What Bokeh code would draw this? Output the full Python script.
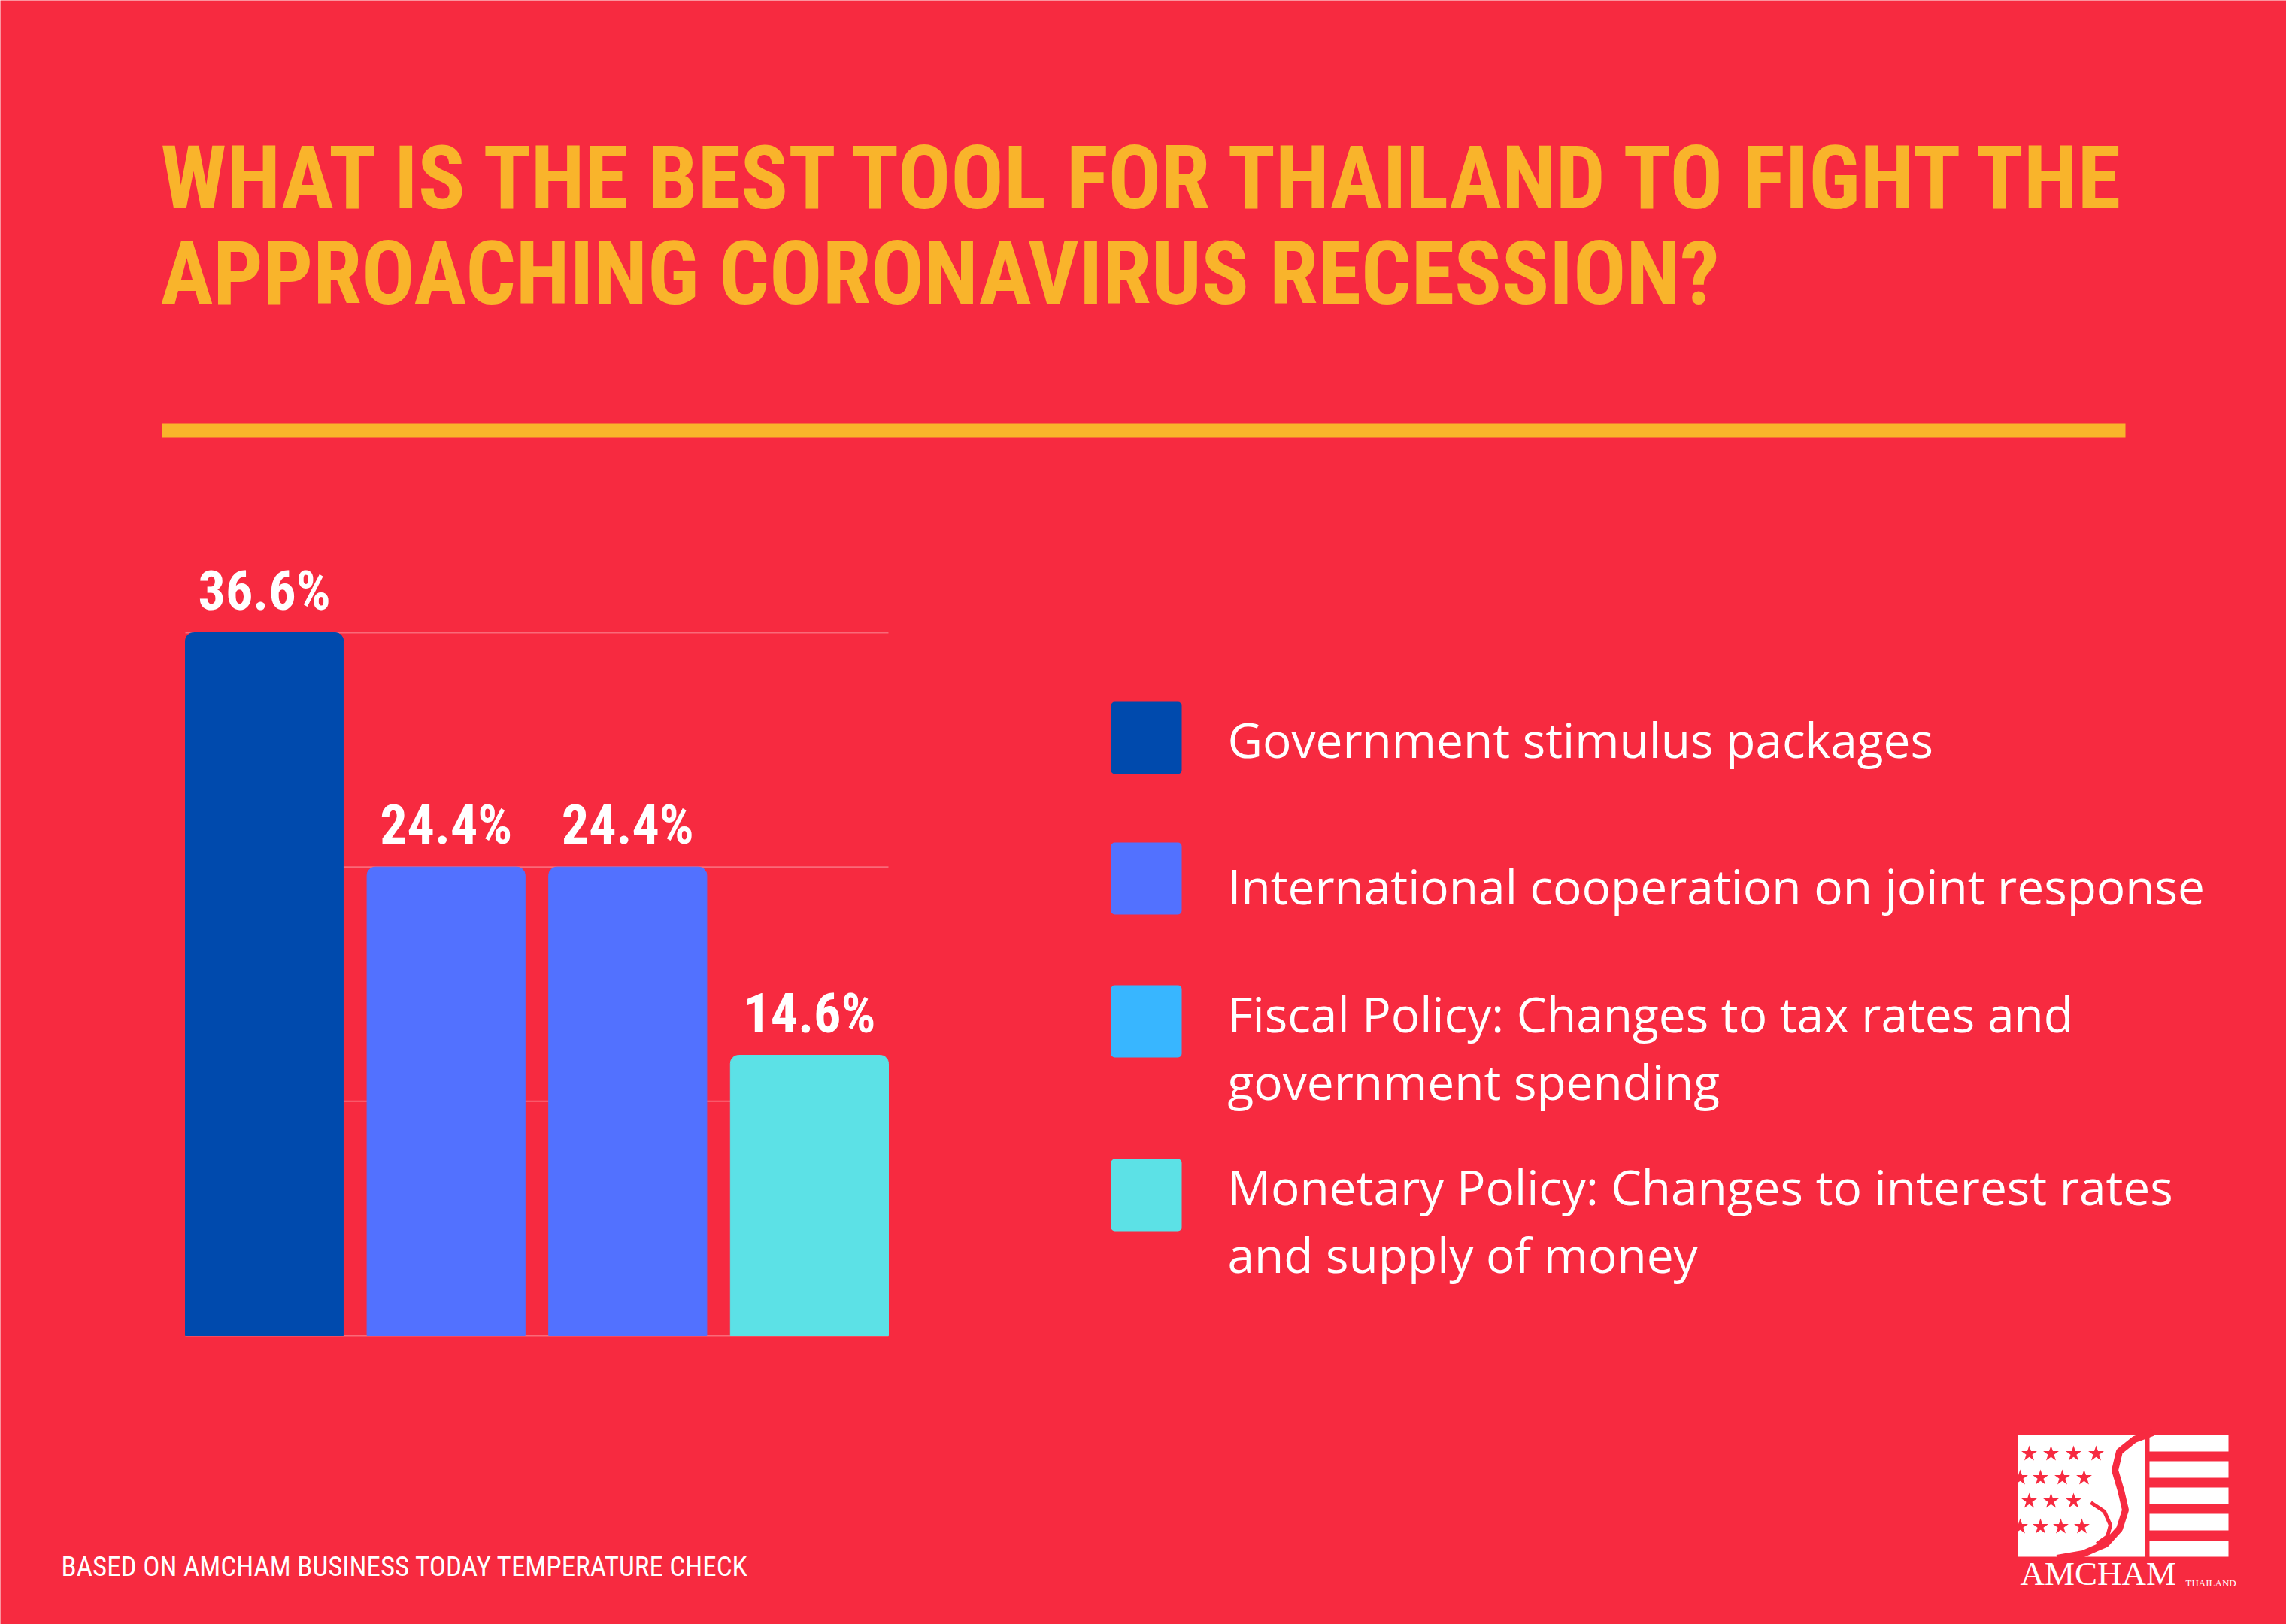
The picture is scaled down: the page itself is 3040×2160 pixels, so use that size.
from bokeh.plotting import figure
from bokeh.models import Range1d, ColumnDataSource
from bokeh.core.properties import value
from bokeh.embed import file_html
from bokeh.resources import INLINE

# ---------------- data ----------------
categories = [
    "Government stimulus packages",
    "International cooperation on joint response",
    "Fiscal Policy: Changes to tax rates and\ngovernment spending",
    "Monetary Policy: Changes to interest rates\nand supply of money",
]
values = [36.6, 24.4, 24.4, 14.6]
bar_colors = ["#004AAD", "#5271FF", "#5271FF", "#5CE1E6"]
legend_colors = ["#004AAD", "#5271FF", "#38B6FF", "#5CE1E6"]
title_lines = ["WHAT IS THE BEST TOOL FOR THAILAND TO FIGHT THE",
               "APPROACHING CORONAVIRUS RECESSION?"]
footer = "BASED ON AMCHAM BUSINESS TODAY TEMPERATURE CHECK"
grid_steps = 3

# ---------------- style / layout ----------------
BG = "#F72A40"
YELLOW = "#F9B42B"
W, H = 3040, 2160
BAR_L, BAR_R = 246, 1181       # outer bar edges (px)
BAR_BASE, BAR_TOP = 1776, 841  # baseline and tallest-bar top (px)
bar_w = 0.87
K = 0.38  # baseline correction (fraction of font size)

n = len(values)
vmax = max(values)
ppx = (BAR_R - BAR_L) / (n - 1 + bar_w)
ppy = (BAR_BASE - BAR_TOP) / vmax
x0 = -bar_w / 2 - BAR_L / ppx
y0 = -(H - BAR_BASE) / ppy

p = figure(width=W, height=H, output_backend="svg", toolbar_location=None,
           x_axis_type=None, y_axis_type=None,
           x_range=Range1d(x0, x0 + W / ppx), y_range=Range1d(y0, y0 + H / ppy),
           min_border=0)
p.background_fill_color = BG
p.border_fill_color = BG
p.outline_line_color = None
p.grid.visible = False
# pixel coordinate space (y downward) for the layout items
p.extra_x_ranges = {"px": Range1d(0, W)}
p.extra_y_ranges = {"px": Range1d(H, 0)}
PX = dict(x_range_name="px", y_range_name="px")

# grid lines across the bar area
ticks = [vmax * k / grid_steps for k in range(grid_steps + 1)]
p.segment(x0=[-bar_w / 2] * len(ticks), x1=[n - 1 + bar_w / 2] * len(ticks),
          y0=ticks, y1=ticks, line_color="white", line_alpha=0.3, line_width=2)

LBL = 72
src = ColumnDataSource(dict(x=list(range(n)), top=values, color=bar_colors,
                            label=[f"{v:.1f}%" for v in values]))
p.vbar(x="x", top="top", bottom=0, width=bar_w, color="color", source=src,
       border_radius=(11, 11, 0, 0))
p.text(x="x", y="top", text="label", source=src, y_offset=-28 - K * LBL,
       text_align="center", text_baseline="alphabetic",
       text_font=value("Roboto Condensed"), text_font_style="bold",
       text_font_size=f"{LBL}px", text_color="white")


def txt(xs, ys, texts, size, font, style="normal", color="white", align="left"):
    p.text(x=xs, y=[y - K * size for y in ys], text=texts, text_font=value(font),
           text_font_style=style, text_font_size=f"{size}px", text_color=color,
           text_align=align, text_baseline="alphabetic", **PX)


# title
txt([213] * len(title_lines), [281 + i * 127 for i in range(len(title_lines))],
    title_lines, 117, "Roboto Condensed", "bold", YELLOW)

# yellow rule
p.quad(left=[215], right=[2826], top=[563], bottom=[581], fill_color=YELLOW,
       line_color=None, **PX)

# legend
sw_tops = [933, 1120, 1310, 1541]
first_baselines = [1007, 1202, 1372, 1602]
p.quad(left=[1477] * n, right=[1571] * n, top=sw_tops, bottom=[t + 96 for t in sw_tops],
       fill_color=legend_colors, line_color=None, border_radius=5, **PX)
lx, ly, lt = [], [], []
for i, cat in enumerate(categories):
    for j, line in enumerate(cat.split("\n")):
        lx.append(1632)
        ly.append(first_baselines[i] + j * 90)
        lt.append(line)
txt(lx, ly, lt, 64, "Open Sans")

# footer
txt([81], [2097], [footer], 37, "Roboto Condensed")

# logo (approximation)
p.quad(left=[2683], right=[2852], top=[1908], bottom=[2070], fill_color="white",
       line_color=None, **PX)
stripes = [(1908, 1930), (1943, 1965), (1978, 2000), (2013, 2035), (2049, 2070)]
p.quad(left=[2858] * 5, right=[2963] * 5, top=[s[0] for s in stripes],
       bottom=[s[1] for s in stripes], fill_color="white", line_color=None, **PX)
p.line(x=[2862, 2838, 2818, 2812, 2820, 2826, 2818, 2800, 2770, 2735],
       y=[1905, 1914, 1930, 1955, 1982, 2008, 2033, 2053, 2066, 2072],
       line_color=BG, line_width=9, **PX)
p.line(x=[2780, 2798, 2806, 2802, 2788],
       y=[1998, 2010, 2028, 2043, 2053], line_color=BG, line_width=5, **PX)
star_rows = [([2698, 2727, 2757, 2787], 1933), ([2686, 2713, 2742, 2771], 1965),
             ([2698, 2727, 2757], 1996), ([2686, 2713, 2740, 2768], 2030)]
sx_, sy_ = [], []
for xs_row, yrow in star_rows:
    sx_ += xs_row
    sy_ += [yrow] * len(xs_row)
p.scatter(x=sx_, y=sy_, marker="star", size=22, fill_color=BG, line_color=None, **PX)
txt([2686], [2110], ["AMCHAM"], 45, "Liberation Serif")
txt([2906], [2110], ["THAILAND"], 13, "Liberation Serif")

open("out.html", "w").write(file_html(p, INLINE))
